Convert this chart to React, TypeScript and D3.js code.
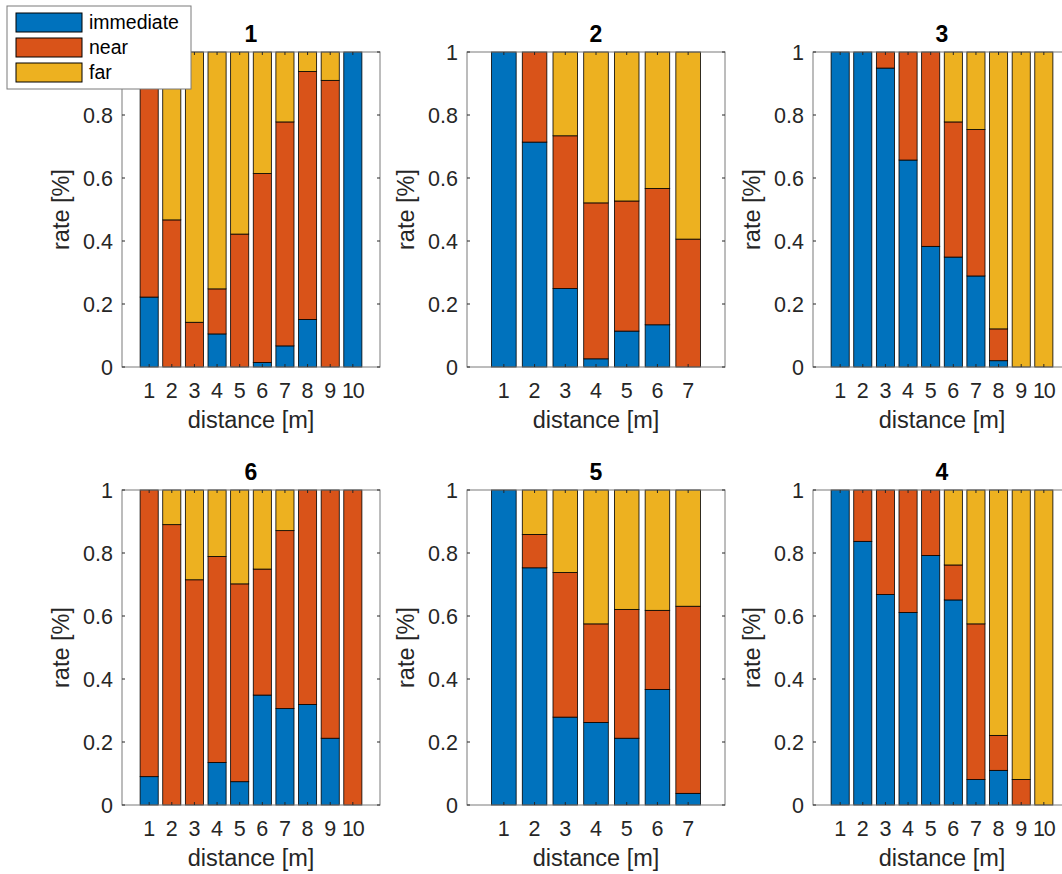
import * as d3 from "d3";

// panel titles in grid order (top row, then bottom row)
const panelTitles = ["1", "2", "3", "6", "5", "4"];
const seriesNames = ["immediate", "near", "far"];
const seriesColors = ["#0072BD", "#D95319", "#EDB120"];
const yTicks = [0, 0.2, 0.4, 0.6, 0.8, 1];

// share of each class per distance bin
const imm1 = [0.222, 0, 0, 0.105, 0, 0.014, 0.067, 0.151, 0, 1];
const near1 = [0.778, 0.467, 0.142, 0.143, 0.422, 0.6, 0.711, 0.787, 0.91, 0];
const far1 = [0, 0.533, 0.858, 0.752, 0.578, 0.386, 0.222, 0.062, 0.09, 0];

const imm2 = [1, 0.714, 0.249, 0.026, 0.114, 0.134, 0];
const near2 = [0, 0.286, 0.485, 0.495, 0.413, 0.433, 0.406];
const far2 = [0, 0, 0.266, 0.479, 0.473, 0.433, 0.594];

const imm3 = [1, 1, 0.949, 0.657, 0.383, 0.349, 0.289, 0.02, 0, 0];
const near3 = [0, 0, 0.051, 0.343, 0.617, 0.429, 0.465, 0.101, 0, 0];
const far3 = [0, 0, 0, 0, 0, 0.222, 0.246, 0.879, 1, 1];

const imm4 = [1, 0.837, 0.668, 0.611, 0.792, 0.651, 0.081, 0.11, 0, 0];
const near4 = [0, 0.163, 0.332, 0.389, 0.208, 0.111, 0.494, 0.111, 0.081, 0];
const far4 = [0, 0, 0, 0, 0, 0.238, 0.425, 0.779, 0.919, 1];

const imm5 = [1, 0.753, 0.279, 0.262, 0.212, 0.367, 0.037];
const near5 = [0, 0.106, 0.459, 0.313, 0.409, 0.251, 0.594];
const far5 = [0, 0.141, 0.262, 0.425, 0.379, 0.382, 0.369];

const imm6 = [0.09, 0, 0, 0.135, 0.074, 0.349, 0.306, 0.319, 0.212, 0];
const near6 = [0.91, 0.89, 0.715, 0.654, 0.628, 0.4, 0.565, 0.681, 0.788, 1];
const far6 = [0, 0.11, 0.285, 0.211, 0.298, 0.251, 0.129, 0, 0, 0];

const panelData = [
  [imm1, near1, far1],
  [imm2, near2, far2],
  [imm3, near3, far3],
  [imm6, near6, far6],
  [imm5, near5, far5],
  [imm4, near4, far4],
];

const W = 1062,
  H = 874;
const colLeft = [122, 467, 813];
const rowTop = [52, 490];
const axW = 258,
  axH = 315;
const font = "'Liberation Sans', Arial, sans-serif";
const textColor = "#262626";
const tickLen = 3;

function Panel({ idx }: { idx: number }) {
  const left = colLeft[idx % 3];
  const top = rowTop[Math.floor(idx / 3)];
  const series = panelData[idx];
  const n = series[0].length;
  const cats = d3.range(1, n + 1);

  const x = d3.scaleLinear().domain([1 - 1.2, n + 1.2]).range([0, axW]);
  const y = d3.scaleLinear().domain([0, 1]).range([axH, 0]);
  const bw = x(1.8) - x(1);

  const rows = cats.map((c, i) => {
    const r: any = { cat: c };
    seriesNames.forEach((s, k) => (r[s] = series[k][i]));
    return r;
  });
  const stacked = d3.stack().keys(seriesNames)(rows);

  return (
    <g transform={`translate(${left},${top})`}>
      <rect x={0} y={0} width={axW} height={axH} fill="#fff" />
      {stacked.map((layer, k) => (
        <g key={k} fill={seriesColors[k]} stroke="#000" strokeWidth={0.8}>
          {layer.map((d, i) =>
            d[1] - d[0] > 0 ? (
              <rect
                key={i}
                x={x(cats[i]) - bw / 2}
                y={y(d[1])}
                width={bw}
                height={y(d[0]) - y(d[1])}
              />
            ) : null
          )}
        </g>
      ))}
      <rect x={0} y={0} width={axW} height={axH} fill="none" stroke="#7a7a7a" strokeWidth={1} />
      {/* x ticks bottom & top */}
      {cats.map((c) => (
        <g key={c} stroke={textColor} strokeWidth={1}>
          <line x1={x(c)} x2={x(c)} y1={axH} y2={axH - tickLen} />
          <line x1={x(c)} x2={x(c)} y1={0} y2={tickLen} />
        </g>
      ))}
      {yTicks.map((t) => (
        <g key={t} stroke={textColor} strokeWidth={1}>
          <line x1={0} x2={tickLen} y1={y(t)} y2={y(t)} />
          <line x1={axW} x2={axW - tickLen} y1={y(t)} y2={y(t)} />
        </g>
      ))}
      <g fontFamily={font} fill={textColor} fontSize={21.5}>
        {cats.map((c) => (
          <text key={c} x={x(c)} y={axH + 31} textAnchor="middle" letterSpacing={n > 9 && c === 10 ? -1 : 0}>
            {c}
          </text>
        ))}
        {yTicks.map((t) => (
          <text key={t} x={-9} y={y(t)} dy="0.36em" textAnchor="end">
            {d3.format("~g")(t)}
          </text>
        ))}
      </g>
      <text
        x={axW / 2}
        y={axH + 61}
        textAnchor="middle"
        fontFamily={font}
        fontSize={23.5}
        fill={textColor}
      >
        distance [m]
      </text>
      <text
        transform={`translate(-53,${axH / 2}) rotate(-90)`}
        textAnchor="middle"
        fontFamily={font}
        fontSize={23.5}
        fill={textColor}
      >
        rate [%]
      </text>
      <text
        x={axW / 2}
        y={-10}
        textAnchor="middle"
        fontFamily={font}
        fontSize={23}
        fontWeight="bold"
        fill="#000"
      >
        {panelTitles[idx]}
      </text>
    </g>
  );
}

function Legend() {
  return (
    <g transform="translate(7,6)">
      <rect x={0} y={0} width={184} height={83} fill="#fff" stroke="#7a7a7a" strokeWidth={1} />
      {seriesNames.map((s, k) => (
        <g key={s} transform={`translate(9,${7 + k * 25})`}>
          <rect x={0} y={0} width={66} height={19} fill={seriesColors[k]} stroke="#000" strokeWidth={1} />
          <text x={73} y={16} fontFamily={font} fontSize={19.5} fill="#000">
            {s}
          </text>
        </g>
      ))}
    </g>
  );
}

export default function App() {
  return (
    <svg
      width={W}
      height={H}
      style={{ position: "absolute", left: 0, top: 0, background: "#fff" }}
    >
      <rect width={W} height={H} fill="#fff" />
      {d3.range(6).map((i) => (
        <Panel key={i} idx={i} />
      ))}
      <Legend />
    </svg>
  );
}
